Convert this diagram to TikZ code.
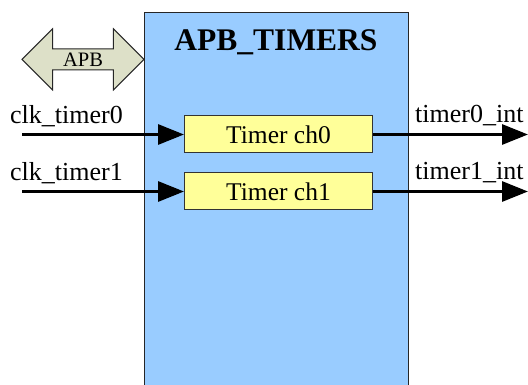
\documentclass[tikz,border=0pt]{standalone}
\usepackage{fontspec}
\setmainfont{LiberationSerif}[Extension=.ttf,UprightFont=*-Regular,BoldFont=*-Bold,ItalicFont=*-Italic,BoldItalicFont=*-BoldItalic]
\usetikzlibrary{arrows.meta,shapes.arrows}
\definecolor{blockblue}{HTML}{99CCFF}
\definecolor{chyellow}{HTML}{FFFF99}
\definecolor{busgrey}{HTML}{DDE0C8}

\begin{document}
\begin{tikzpicture}[x=1pt,y=-1pt,
    chan/.style={draw=black!80,fill=chyellow,line width=1pt,minimum width=188pt,minimum height=37pt,inner sep=0pt,font=\fontsize{25.5}{28}\selectfont},
    sig/.style={-{Triangle[length=26pt,width=20pt]},line width=3pt},
    siglbl/.style={anchor=base west,inner sep=0pt,font=\fontsize{26}{28}\selectfont}]
    \useasboundingbox(0,0)rectangle(528,385);
    \node[draw=black!85,fill=blockblue,line width=1pt,minimum width=264pt,minimum height=400pt,anchor=north west,inner sep=0pt](timers)at(144,12){};
    \node[anchor=base,inner sep=0pt,font=\bfseries\fontsize{31.5}{34}\selectfont](title)at(276,51){APB\_TIMERS};
    \node[double arrow,draw=black!85,fill=busgrey,line width=1pt,double arrow head extend=20pt,double arrow tip angle=90,double arrow head indent=0pt,minimum height=122pt,inner xsep=0pt,inner ysep=1.5pt,text height=15.5pt,text depth=1.5pt,font=\fontsize{20.5}{22}\selectfont](apb)at(83,59.3){APB};

    \node[chan](ch0)at(278.5,134.5){Timer ch0};
    \node[chan](ch1)at(278.5,191.5){Timer ch1};

    \coordinate(clk0)at(22,134.5);
    \coordinate(clk1)at(22,191.5);
    \coordinate(int0)at(528,134.5);
    \coordinate(int1)at(528,191.5);

    \draw[sig](clk0)--(ch0);
    \draw[sig](clk1)--(ch1);
    \draw[sig](ch0)--(int0);
    \draw[sig](ch1)--(int1);

    \node[siglbl](clk0lbl)at(10,124){clk\_timer0};
    \node[siglbl](clk1lbl)at(10,181){clk\_timer1};
    \node[siglbl](int0lbl)at(415,123){timer0\_int};
    \node[siglbl](int1lbl)at(415,180){timer1\_int};
\end{tikzpicture}
\end{document}
